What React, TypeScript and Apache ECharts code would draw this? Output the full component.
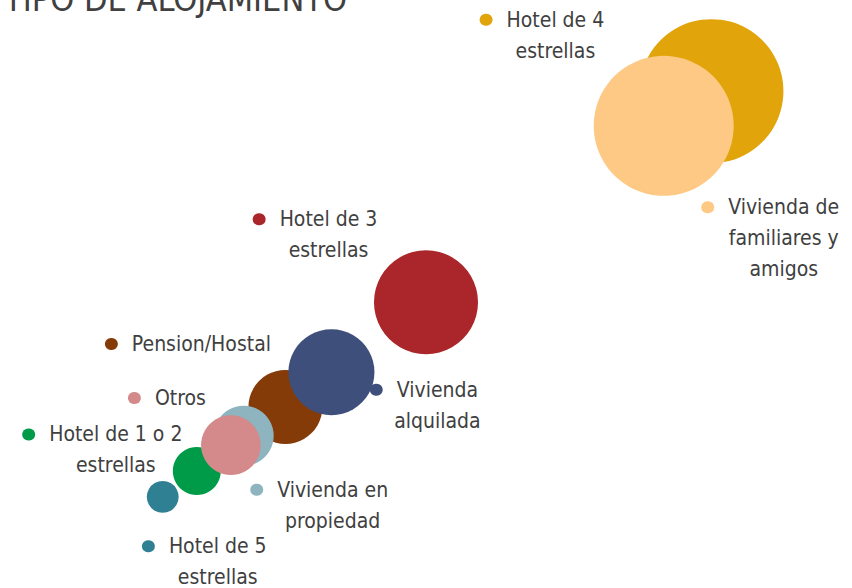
import React, { useEffect, useRef } from "react";
import * as echarts from "echarts";

// Drawing order: bottom first
const categories = [
  "Hotel de 5\nestrellas",
  "Hotel de 1 o 2\nestrellas",
  "Pension/Hostal",
  "Vivienda\nalquilada",
  "Vivienda en\npropiedad",
  "Otros",
  "Hotel de 3\nestrellas",
  "Hotel de 4\nestrellas",
  "Vivienda de\nfamiliares y\namigos",
];
const xValues = [19.1, 23.1, 33.5, 38.9, 28.6, 27.1, 50.0, 83.5, 77.9];
const yValues = [15.5, 19.9, 30.8, 36.7, 25.9, 24.3, 48.6, 84.5, 78.6];
const sizeValues = [4.9, 11.1, 26.4, 35.7, 17.4, 17.2, 52.2, 100, 94.5];
const colors = ["#2F8093", "#009B48", "#843B08", "#3F4F7B", "#8EB4C0", "#D4898A", "#AB262A", "#E1A40A", "#FDC985"];
const labelOffsets = [
  [41.5, 65],
  [-94.5, -21],
  [-97.5, -63],
  [92.5, 33],
  [75.5, 69.5],
  [-64, -47],
  [-111, -67.5],
  [-169.5, -56],
  [106.5, 112.5],
];

const FONT = "'Liberation Sans Narrow', 'DejaVu Sans Condensed', 'Noto Sans', sans-serif";
const TEXT_COLOR = "#404040";

export default function App() {
  const ref = useRef<HTMLDivElement>(null);
  useEffect(() => {
    if (!ref.current) return;
    const chart = echarts.init(ref.current, undefined, { renderer: "svg" });
    const data = categories.map((name, i) => ({
      name,
      value: [xValues[i], yValues[i], sizeValues[i]],
      itemStyle: { color: colors[i], opacity: 1 },
      label: {
        show: true,
        position: "inside",
        offset: labelOffsets[i],
        align: "center",
        verticalAlign: "middle",
        formatter: () => {
          const lines = name.split("\n");
          return lines
            .map((l, j) => (j === 0 ? `{d| }{g| }{t|${l}}` : `{s| }{t|${l}}`))
            .join("\n");
        },
        rich: {
          d: {
            width: 13,
            height: 12,
            borderRadius: 6.5,
            backgroundColor: colors[i],
            verticalAlign: "middle",
            lineHeight: 31,
          },
          g: { width: 14, lineHeight: 31, verticalAlign: "middle" },
          s: { width: 27, lineHeight: 31, verticalAlign: "middle" },
          t: {
            fontSize: 21,
            lineHeight: 31,
            color: TEXT_COLOR,
            fontFamily: FONT,
            verticalAlign: "middle",
          },
        },
      },
    }));
    chart.setOption({
      animation: false,
      backgroundColor: "#ffffff",
      textStyle: { fontFamily: FONT },
      title: {
        text: "TIPO DE ALOJAMIENTO",
        left: 4,
        top: -18,
        padding: 0,
        textStyle: { fontSize: 34, fontWeight: "normal", color: TEXT_COLOR, fontFamily: FONT },
      },
      grid: { left: 0, right: 0, top: 0, bottom: 0 },
      xAxis: { type: "value", min: 0, max: 100, show: false },
      yAxis: { type: "value", min: 0, max: 100, show: false },
      series: [
        {
          type: "scatter",
          symbol: "circle",
          symbolSize: (v: number[]) => 2 * 72 * Math.sqrt(v[2] / 100),
          emphasis: { disabled: true },
          data,
        },
      ],
    });
    return () => chart.dispose();
  }, []);
  return (
    <div
      ref={ref}
      style={{ position: "fixed", left: 0, top: 0, width: 852, height: 588 }}
    />
  );
}
